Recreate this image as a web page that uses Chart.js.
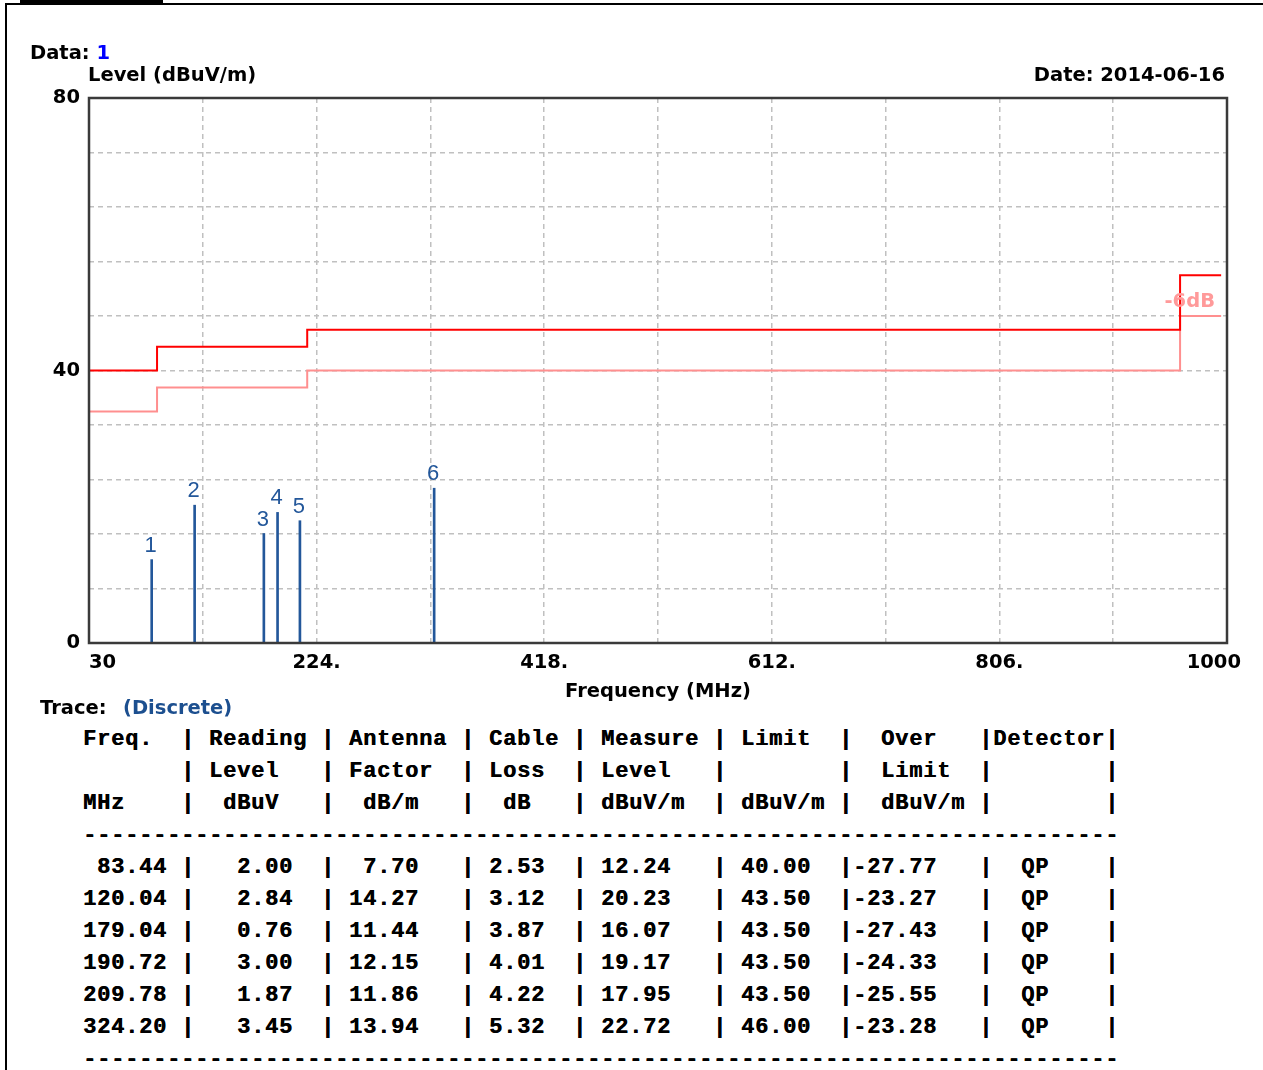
<!DOCTYPE html>
<html>
<head>
<meta charset="utf-8">
<title>Level (dBuV/m)</title>
<script src="https://cdn.jsdelivr.net/npm/chart.js@4.4.1/dist/chart.umd.min.js"></script>
<style>
  html, body { margin: 0; padding: 0; background: #fff; overflow: hidden; }
  body { width: 1263px; height: 1070px; position: relative; font-family: "DejaVu Sans", sans-serif; }
  #tab { position: absolute; left: 20px; top: 0; width: 143px; height: 4px; background: #000; }
  #frameTop { position: absolute; left: 5px; top: 3px; right: 0; height: 2px; background: #000; }
  #frameLeft { position: absolute; left: 5px; top: 3px; width: 2px; bottom: 0; background: #000; }
  #chart { position: absolute; left: 0; top: 0; }
  .lbl { position: absolute; font-weight: bold; font-size: 19.5px; line-height: 20px; white-space: pre; color: #000; }
  #table { position: absolute; left: 83px; top: 724px; margin: 0; font-family: "Liberation Mono", monospace;
           font-weight: bold; font-size: 22px; letter-spacing: 0.8px; line-height: 32px; color: #000;
           text-shadow: 0.4px 0 0 #000; }
</style>
</head>
<body>
<div id="tab"></div>
<div id="frameTop"></div>
<div id="frameLeft"></div>
<canvas id="chart" width="1263" height="720"></canvas>
<div class="lbl" style="left:30px; top:43px;">Data: <span style="color:#0000ff">1</span></div>
<div class="lbl" style="left:88px; top:65px;">Level (dBuV/m)</div>
<div class="lbl" style="right:38px; top:65px;">Date: 2014-06-16</div>
<div class="lbl" style="left:40px; top:698px;">Trace:</div>
<div class="lbl" style="left:123px; top:698px; color:#1c4f8f;">(Discrete)</div>
<pre id="table"></pre>
<script>
// ---------------------------------------------------------------------------
// Data
// ---------------------------------------------------------------------------
const markerLabels = ["1", "2", "3", "4", "5", "6"];
const markerFreq = [83.44, 120.04, 179.04, 190.72, 209.78, 324.20];
const readingLevel = [2.00, 2.84, 0.76, 3.00, 1.87, 3.45];
const antennaFactor = [7.70, 14.27, 11.44, 12.15, 11.86, 13.94];
const cableLoss = [2.53, 3.12, 3.87, 4.01, 4.22, 5.32];
const measureLevel = [12.24, 20.23, 16.07, 19.17, 17.95, 22.72];
const limitAt = [40.00, 43.50, 43.50, 43.50, 43.50, 46.00];
const overLimit = [-27.77, -23.27, -27.43, -24.33, -25.55, -23.28];
const detector = ["QP", "QP", "QP", "QP", "QP", "QP"];

// limit line and the -6dB margin line (step points)
const limitFreq = [30, 88, 216, 960, 995];
const limitLevel = [40, 43.5, 46, 54, 54];
const marginLevel = [34, 37.5, 40, 48, 48];
const marginLabel = "-6dB";

const xTickValues = [30, 224, 418, 612, 806, 1000];
const xTickLabels = ["30", "224.", "418.", "612.", "806.", "1000"];
const yLabelValues = [0, 40, 80];

const headerLines = [
    "Freq.  | Reading | Antenna | Cable | Measure | Limit  |  Over   |Detector|",
    "       | Level   | Factor  | Loss  | Level   |        |  Limit  |        |",
    "MHz    |  dBuV   |  dB/m   |  dB   | dBuV/m  | dBuV/m |  dBuV/m |        |",
];

const MARKER_BLUE = "#23579a";
const SANS_BOLD = 'bold 19.5px "DejaVu Sans"';

// ---------------------------------------------------------------------------
// Table text
// ---------------------------------------------------------------------------
function tableRow(i) {
    const f = (v) => v.toFixed(2);
    return f(markerFreq[i]).padStart(6) + " |" +
        "   " + f(readingLevel[i]) + "  |" +
        " " + f(antennaFactor[i]).padStart(5) + "   |" +
        " " + f(cableLoss[i]) + "  |" +
        " " + f(measureLevel[i]).padStart(5) + "   |" +
        " " + f(limitAt[i]) + "  |" +
        f(overLimit[i]) + "   |" +
        "  " + detector[i] + "    |";
}

const dashLine = "-".repeat(74);
const lines = [...headerLines, dashLine];
for (let i = 0; i < markerFreq.length; i++) lines.push(tableRow(i));
lines.push(dashLine);
document.getElementById("table").textContent = lines.join("\n");

// ---------------------------------------------------------------------------
// Plot decorations: frame box, marker numbers, -6dB text, x tick labels
// ---------------------------------------------------------------------------
const plotDecor = {
    id: "plotDecor",
    afterDatasetsDraw(chart) {
        const { ctx, chartArea: a, scales: { x, y } } = chart;
        ctx.save();

        ctx.strokeStyle = "#3a3a3a";
        ctx.lineWidth = 2.5;
        ctx.strokeRect(a.left, a.top, a.right - a.left, a.bottom - a.top);

        // marker numbers above each discrete line
        const meta = chart.getDatasetMeta(2);
        ctx.fillStyle = MARKER_BLUE;
        ctx.font = '22px "Liberation Sans"';
        ctx.textAlign = "center";
        ctx.textBaseline = "alphabetic";
        meta.data.forEach((bar, i) => {
            ctx.fillText(markerLabels[i], bar.x - 1, bar.y - 8);
        });

        // -6dB caption at right end of margin line
        ctx.fillStyle = "#ff9a9a";
        ctx.font = SANS_BOLD;
        ctx.textAlign = "right";
        ctx.fillText(marginLabel, x.getPixelForValue(1000) - 12,
            y.getPixelForValue(marginLevel[marginLevel.length - 1]) - 9);

        // x tick labels (first left-aligned, last pulled inside)
        ctx.fillStyle = "#000";
        ctx.textBaseline = "middle";
        xTickValues.forEach((v, i) => {
            const px = x.getPixelForValue(v);
            if (i === 0) {
                ctx.textAlign = "left";
                ctx.fillText(xTickLabels[i], px, a.bottom + 20);
            } else if (i === xTickValues.length - 1) {
                ctx.textAlign = "right";
                ctx.fillText(xTickLabels[i], px + 14, a.bottom + 20);
            } else {
                ctx.textAlign = "center";
                ctx.fillText(xTickLabels[i], px, a.bottom + 20);
            }
        });

        ctx.restore();
    },
};

// ---------------------------------------------------------------------------
// Chart
// ---------------------------------------------------------------------------
const gridStyle = { color: "#c0c0c0", lineWidth: 1.5, drawTicks: false, offset: false };

new Chart(document.getElementById("chart"), {
    type: "bar",
    data: {
        datasets: [
            {
                type: "line",
                label: "Limit",
                data: limitFreq.map((f, i) => ({ x: f, y: limitLevel[i] })),
                stepped: "before",
                borderColor: "#ff0000",
                borderWidth: 2,
                pointRadius: 0,
                fill: false,
            },
            {
                type: "line",
                label: marginLabel,
                data: limitFreq.map((f, i) => ({ x: f, y: marginLevel[i] })),
                stepped: "before",
                borderColor: "#ff8f8f",
                borderWidth: 2,
                pointRadius: 0,
                fill: false,
            },
            {
                type: "bar",
                label: "Discrete",
                data: markerFreq.map((f, i) => ({ x: f, y: measureLevel[i] })),
                backgroundColor: MARKER_BLUE,
                barThickness: 2,
                grouped: false,
            },
        ],
    },
    options: {
        responsive: false,
        animation: false,
        layout: { padding: { top: 98, right: 36, left: 0, bottom: 0 } },
        plugins: { legend: { display: false }, tooltip: { enabled: false } },
        scales: {
            x: {
                type: "linear",
                min: 30,
                max: 1000,
                offset: false,
                ticks: { stepSize: 97, display: false },
                grid: gridStyle,
                border: { display: false, dash: [5, 4] },
                title: {
                    display: true,
                    text: "Frequency (MHz)",
                    color: "#000",
                    font: { family: "DejaVu Sans", size: 19.5, weight: "bold" },
                    padding: { top: 0, bottom: 16 },
                },
                afterFit(scale) { scale.height = 77; },
            },
            y: {
                type: "linear",
                min: 0,
                max: 80,
                ticks: {
                    stepSize: 8,
                    padding: 9,
                    autoSkip: false,
                    color: "#000",
                    font: { family: "DejaVu Sans", size: 19.5, weight: "bold" },
                    callback: (v) => (yLabelValues.includes(v) ? String(v) : ""),
                },
                grid: gridStyle,
                border: { display: false, dash: [5, 4] },
                afterFit(scale) { scale.width = 89; },
            },
        },
    },
    plugins: [plotDecor],
});
</script>
</body>
</html>
